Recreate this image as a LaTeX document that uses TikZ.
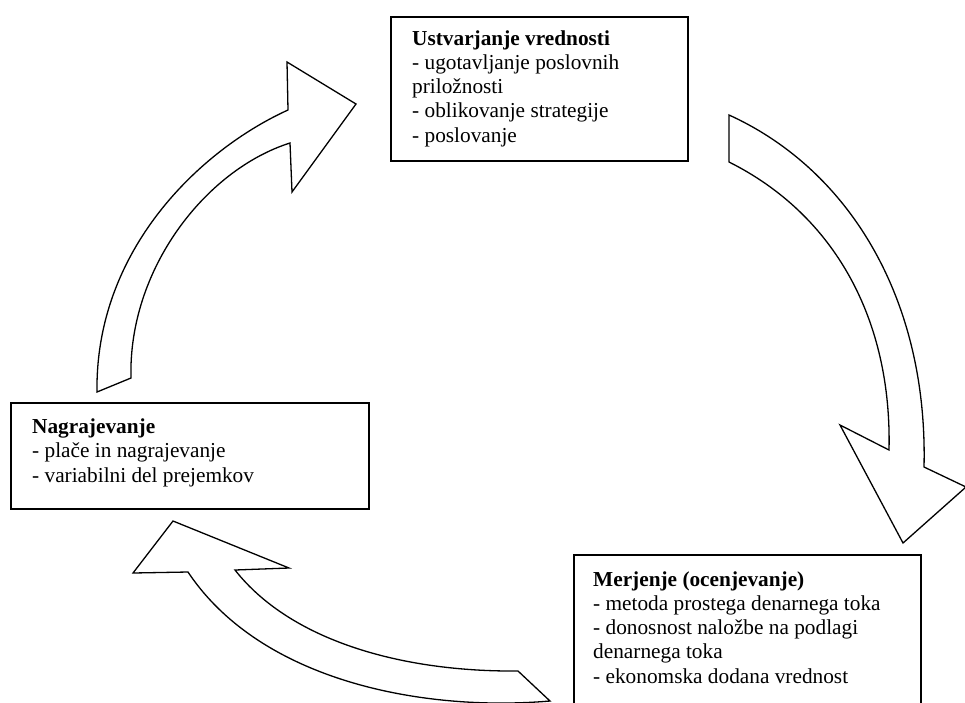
\documentclass[tikz,border=0pt]{standalone}
\usepackage{fontspec}
\setmainfont{Liberation Serif}
\usepackage{tikz}
\tikzset{
 stagebox/.style = {draw, line width=1.5pt, anchor=north west, inner sep=0},
 stagetext/.style = {anchor=base west, align=left, inner sep=0, font=\fontsize{21.3}{24.2}\selectfont},
 bentarrow/.style = {draw, fill=white, line width=1.3pt, line join=miter}
}

\begin{document}
\begin{tikzpicture}[x=1pt, y=-1pt]
\useasboundingbox[fill=white] (0,0) rectangle (965,702);
\node[stagebox, minimum width=297pt, minimum height=144pt] (ustv) at (390,16) {};
\node[stagebox, minimum width=358pt, minimum height=106pt] (nagr) at (10,402) {};
\node[stagebox, minimum width=347pt, minimum height=170pt] (merj) at (573,554) {};
\node[stagetext] (ustvtxt) at (412,142) {\textbf{Ustvarjanje vrednosti}\\- ugotavljanje poslovnih\\priložnosti\\- oblikovanje strategije\\- poslovanje};
\node[stagetext] (nagrtxt) at (32,482) {\textbf{Nagrajevanje}\\- plače in nagrajevanje\\- variabilni del prejemkov};
\node[stagetext] (merjtxt) at (593,683) {\textbf{Merjenje (ocenjevanje)}\\- metoda prostega denarnega toka\\- donosnost naložbe na podlagi\\denarnega toka\\- ekonomska dodana vrednost};
\draw[bentarrow] (97,392) .. controls (95,250) and (200,150) .. (288,110) -- (287,62) -- (356,104) -- (292,192) -- (290,143) .. controls (205,170) and (128,270) .. (131,378) -- cycle;
\draw[bentarrow] (729,115) .. controls (850,170) and (928,300) .. (924,467) -- (966,487) -- (903,543) -- (840,425) -- (889,450) .. controls (892,320) and (835,215) .. (729,162) -- cycle;
\draw[bentarrow] (173,521) -- (289,568) -- (235,570) .. controls (290,640) and (400,672) .. (518,671) -- (550,701) .. controls (420,712) and (260,680) .. (188,572) -- (133,573) -- cycle;
\end{tikzpicture}
\end{document}
